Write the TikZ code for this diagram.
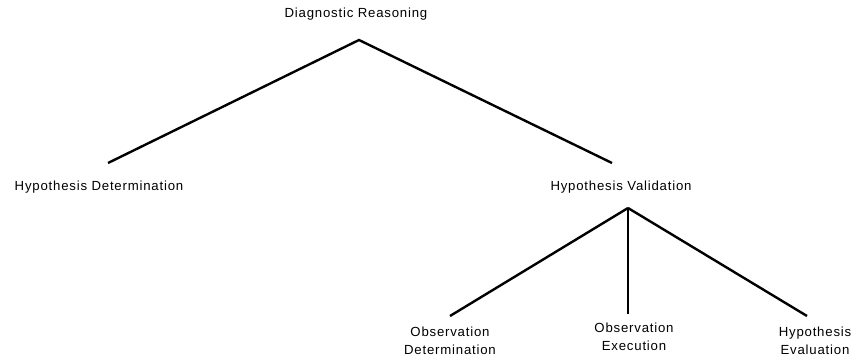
\documentclass[tikz,border=0pt]{standalone}
\usepackage{fontspec}
\setmainfont{Liberation Sans}
\newfontfamily\termfont[LetterSpace=6]{Liberation Sans}
\begin{document}
\begin{tikzpicture}[
        x=1pt, y=-1pt,
        term/.style={font=\termfont\fontsize{13.2}{18.5}\selectfont, inner sep=0pt, align=center},
        branch/.style={line width=2.4pt}
    ]
    \useasboundingbox (0,0) rectangle (858,363);
    % Terms
    \node[term] (diag) at (356,14) {Diagnostic Reasoning};
    \node[term] (hypdet) at (99,187) {Hypothesis Determination};
    \node[term] (hypval) at (621,187) {Hypothesis Validation};
    \node[term] (obsdet) at (450,341) {Observation\\Determination};
    \node[term] (obsexe) at (634,337) {Observation\\Execution};
    \node[term] (hypeva) at (815,341) {Hypothesis\\Evaluation};

    % Joints
    \coordinate (diag-j) at (359,40);
    \coordinate (hypdet-j) at (108,163);
    \coordinate (hypval-top) at (612,163);
    \coordinate (hypval-j) at (628,208);
    \coordinate (obsdet-j) at (450,316);
    \coordinate (obsexe-j) at (628,314);
    \coordinate (hypeva-j) at (807,316);

    % Branches
    \draw[branch] (hypdet-j) -- (diag-j) -- (hypval-top);
    \draw[branch] (hypval-j) -- (obsdet-j);
    \draw[branch] (hypval-j) -- (obsexe-j);
    \draw[branch] (hypval-j) -- (hypeva-j);
\end{tikzpicture}
\end{document}
